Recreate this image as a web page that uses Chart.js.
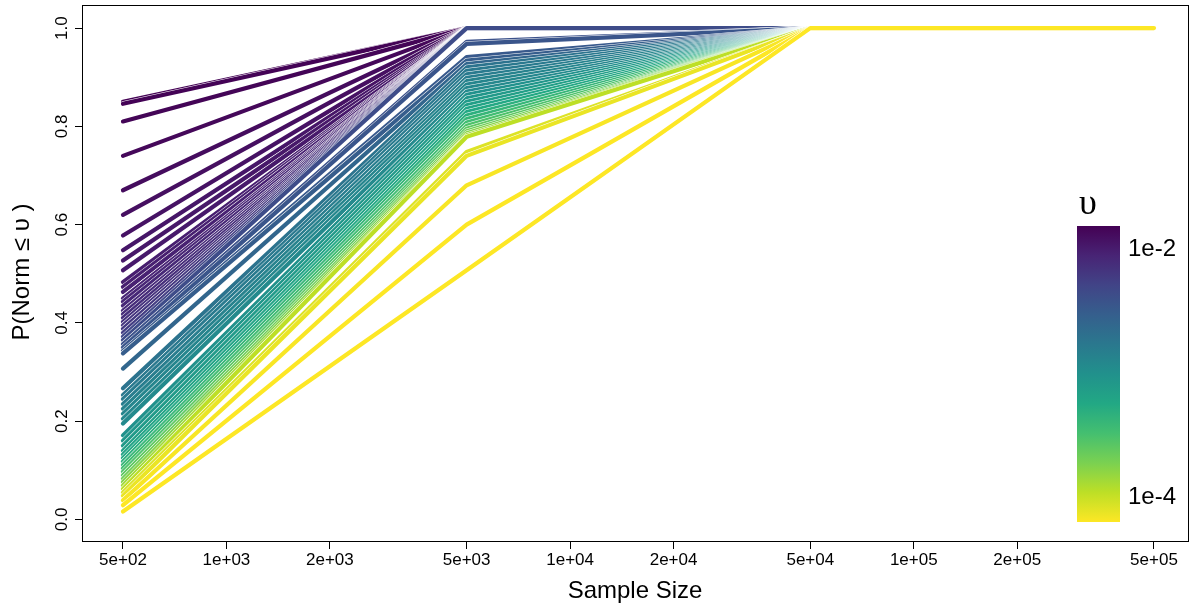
<!DOCTYPE html>
<html>
<head>
<meta charset="utf-8">
<script src="https://cdn.jsdelivr.net/npm/chart.js@4.4.0/dist/chart.umd.min.js"></script>
<style>
  html, body { margin: 0; padding: 0; background: #fff; }
  #wrap { width: 1191px; height: 610px; }
</style>
</head>
<body>
<div id="wrap"><canvas id="chart" width="1191" height="610"></canvas></div>
<script>
// sample sizes on the x axis
var sampleSize = [500, 5000, 50000, 500000];

// one entry per curve, ordered from largest to smallest upsilon
var log10Upsilon = [
  -1.82, -1.83, -1.84, -1.86, -1.89, -1.91, -1.93, -1.96, -1.97, -1.98,
  -2.01, -2.02, -2.03, -2.05, -2.07, -2.08, -2.10, -2.11, -2.13, -2.15,
  -2.17, -2.20, -2.24, -2.32, -2.36, -2.41, -2.44, -2.48, -2.51, -2.60,
  -2.72, -2.77, -2.79, -2.82, -2.86, -2.89, -2.91, -2.94, -3.01, -3.06,
  -3.10, -3.15, -3.20, -3.25, -3.32, -3.39, -3.46, -3.53, -3.60, -3.68,
  -3.77, -3.87, -3.96, -4.08, -4.13, -4.18, -4.20, -4.20
];
var pAt500 = [
  0.850, 0.846, 0.810, 0.740, 0.670, 0.620, 0.578, 0.548, 0.527, 0.507,
  0.483, 0.473, 0.463, 0.450, 0.443, 0.435, 0.425, 0.418, 0.410, 0.402,
  0.395, 0.388, 0.380, 0.372, 0.365, 0.357, 0.350, 0.343, 0.338, 0.307,
  0.267, 0.253, 0.245, 0.235, 0.225, 0.215, 0.205, 0.195, 0.171, 0.160,
  0.150, 0.140, 0.132, 0.125, 0.118, 0.111, 0.104, 0.097, 0.090, 0.083,
  0.076, 0.069, 0.062, 0.055, 0.048, 0.039, 0.029, 0.016
];
var pAt5000 = [
  1, 1, 1, 1, 1, 1, 1, 1, 1, 1,
  1, 1, 1, 1, 1, 1, 1, 1, 1, 1,
  1, 1, 1, 1, 1, 0.972, 0.968, 0.941, 0.934, 0.927,
  0.920, 0.913, 0.906, 0.899, 0.892, 0.885, 0.878, 0.871, 0.864, 0.857,
  0.850, 0.843, 0.836, 0.829, 0.822, 0.815, 0.808, 0.801, 0.795, 0.790,
  0.786, 0.782, 0.779, 0.748, 0.740, 0.680, 0.600, 0.507
];
var pAt50000 = [
  1, 1, 1, 1, 1, 1, 1, 1, 1, 1,
  1, 1, 1, 1, 1, 1, 1, 1, 1, 1,
  1, 1, 1, 1, 1, 1, 1, 1, 1, 1,
  1, 1, 1, 1, 1, 1, 1, 1, 1, 1,
  1, 1, 1, 1, 1, 1, 1, 1, 1, 1,
  1, 1, 1, 1, 1, 1, 1, 1
];
var pAt500000 = [
  1, 1, 1, 1, 1, 1, 1, 1, 1, 1,
  1, 1, 1, 1, 1, 1, 1, 1, 1, 1,
  1, 1, 1, 1, 1, 1, 1, 1, 1, 1,
  1, 1, 1, 1, 1, 1, 1, 1, 1, 1,
  1, 1, 1, 1, 1, 1, 1, 1, 1, 1,
  1, 1, 1, 1, 1, 1, 1, 1
];

// axis ticks
var xTickValues = [500, 1000, 2000, 5000, 10000, 20000, 50000, 100000, 200000, 500000];
var xTickLabels = ['5e+02', '1e+03', '2e+03', '5e+03', '1e+04', '2e+04', '5e+04', '1e+05', '2e+05', '5e+05'];
var yTickValues = [0, 0.2, 0.4, 0.6, 0.8, 1.0];
var yTickLabels = ['0.0', '0.2', '0.4', '0.6', '0.8', '1.0'];

// colour bar (log10 upsilon)
var legendRange = [-1.815, -4.2];
var legendTickValues = [-2, -4];
var legendTickLabels = ['1e-2', '1e-4'];

var FONT = "'Liberation Sans', Arial, Helvetica, sans-serif";
var viridisStops = ['#440154', '#482475', '#414487', '#355f8d', '#2a788e', '#21918c',
                    '#22a884', '#44bf70', '#7ad151', '#bddf26', '#fde725'];

function hexToRgb(h) {
  return [parseInt(h.substr(1, 2), 16), parseInt(h.substr(3, 2), 16), parseInt(h.substr(5, 2), 16)];
}
function viridis(t) {
  t = Math.max(0, Math.min(1, t));
  var p = t * (viridisStops.length - 1);
  var i = Math.min(Math.floor(p), viridisStops.length - 2);
  var f = p - i;
  var a = hexToRgb(viridisStops[i]), b = hexToRgb(viridisStops[i + 1]);
  return 'rgb(' + [0, 1, 2].map(function(k) { return Math.round(a[k] + (b[k] - a[k]) * f); }).join(',') + ')';
}
function colourPos(logU) {
  return (legendRange[0] - logU) / (legendRange[0] - legendRange[1]);
}

// build datasets in drawing order (purple first, yellow last); each curve gets a thin white halo
var drawOrder = [];
pAt500.forEach(function(p, i) {
  var pts = [
    { x: sampleSize[0], y: pAt500[i] },
    { x: sampleSize[1], y: pAt5000[i] },
    { x: sampleSize[2], y: pAt50000[i] },
    { x: sampleSize[3], y: pAt500000[i] }
  ];
  var common = { data: pts, pointRadius: 0, tension: 0, fill: false,
                 borderCapStyle: 'round', borderJoinStyle: 'round' };
  drawOrder.push(Object.assign({}, common, { borderColor: '#ffffff', borderWidth: 5.2 }));
  drawOrder.push(Object.assign({}, common, { borderColor: viridis(colourPos(log10Upsilon[i])), borderWidth: 4.2 }));
});
// Chart.js paints the first dataset on top
var datasets = drawOrder.slice().reverse();

var extras = {
  id: 'extras',
  afterDraw: function(chart) {
    var ctx = chart.ctx, a = chart.chartArea, ys = chart.scales.y;
    ctx.save();
    // box
    ctx.strokeStyle = '#000';
    ctx.lineWidth = 1;
    ctx.strokeRect(Math.round(a.left) + 0.5, Math.round(a.top) - 0.5,
                   Math.round(a.right - a.left), Math.round(a.bottom - a.top));

    // y tick labels, rotated like base R
    ctx.fillStyle = '#000';
    ctx.font = '17px ' + FONT;
    ctx.textAlign = 'center';
    ctx.textBaseline = 'middle';
    yTickValues.forEach(function(v, i) {
      ctx.save();
      ctx.translate(62, ys.getPixelForValue(v));
      ctx.rotate(-Math.PI / 2);
      ctx.fillText(yTickLabels[i], 0, 0);
      ctx.restore();
    });

    // y title
    ctx.save();
    ctx.translate(22, 272);
    ctx.rotate(-Math.PI / 2);
    ctx.font = '24px ' + FONT;
    ctx.fillText('P(Norm \u2264 \u03c5 )', 0, 0);
    ctx.restore();

    // colour bar
    var bx = 1077, bw = 43, by = 226, bh = 296;
    var g = ctx.createLinearGradient(0, by, 0, by + bh);
    viridisStops.forEach(function(c, i) { g.addColorStop(i / (viridisStops.length - 1), c); });
    ctx.fillStyle = g;
    ctx.fillRect(bx, by, bw, bh);
    ctx.fillStyle = '#000';
    ctx.font = '24px ' + FONT;
    ctx.textAlign = 'left';
    legendTickValues.forEach(function(v, i) {
      ctx.fillText(legendTickLabels[i], bx + bw + 8, by + colourPos(v) * bh);
    });
    ctx.font = '36px "Liberation Serif", "DejaVu Serif", serif';
    ctx.textAlign = 'center';
    ctx.fillText('\u03c5', 1088, 205);
    ctx.restore();
  }
};

new Chart(document.getElementById('chart'), {
  type: 'line',
  data: { datasets: datasets },
  options: {
    responsive: false,
    animation: false,
    devicePixelRatio: 1,
    layout: { padding: { top: 6, right: 3, left: 0, bottom: 0 } },
    plugins: { legend: { display: false }, tooltip: { enabled: false } },
    scales: {
      x: {
        type: 'logarithmic',
        min: 380,
        max: 628000,
        afterBuildTicks: function(s) { s.ticks = xTickValues.map(function(v) { return { value: v }; }); },
        afterFit: function(s) { s.height = 68; },
        ticks: {
          autoSkip: false, maxRotation: 0, padding: 1, color: '#000',
          font: { family: FONT, size: 17 },
          callback: function(v, i) { return xTickLabels[i]; }
        },
        grid: { drawOnChartArea: false, drawTicks: true, tickLength: 7, color: '#000' },
        border: { display: false },
        title: { display: true, text: 'Sample Size', color: '#000',
                 font: { family: FONT, size: 24 }, padding: { top: 0, bottom: 4 } }
      },
      y: {
        type: 'linear',
        min: -0.046,
        max: 1.045,
        afterBuildTicks: function(s) { s.ticks = yTickValues.map(function(v) { return { value: v }; }); },
        afterFit: function(s) { s.width = 82; },
        ticks: { display: false },
        grid: { drawOnChartArea: false, drawTicks: true, tickLength: 7, color: '#000' },
        border: { display: false }
      }
    }
  },
  plugins: [extras]
});
</script>
</body>
</html>
